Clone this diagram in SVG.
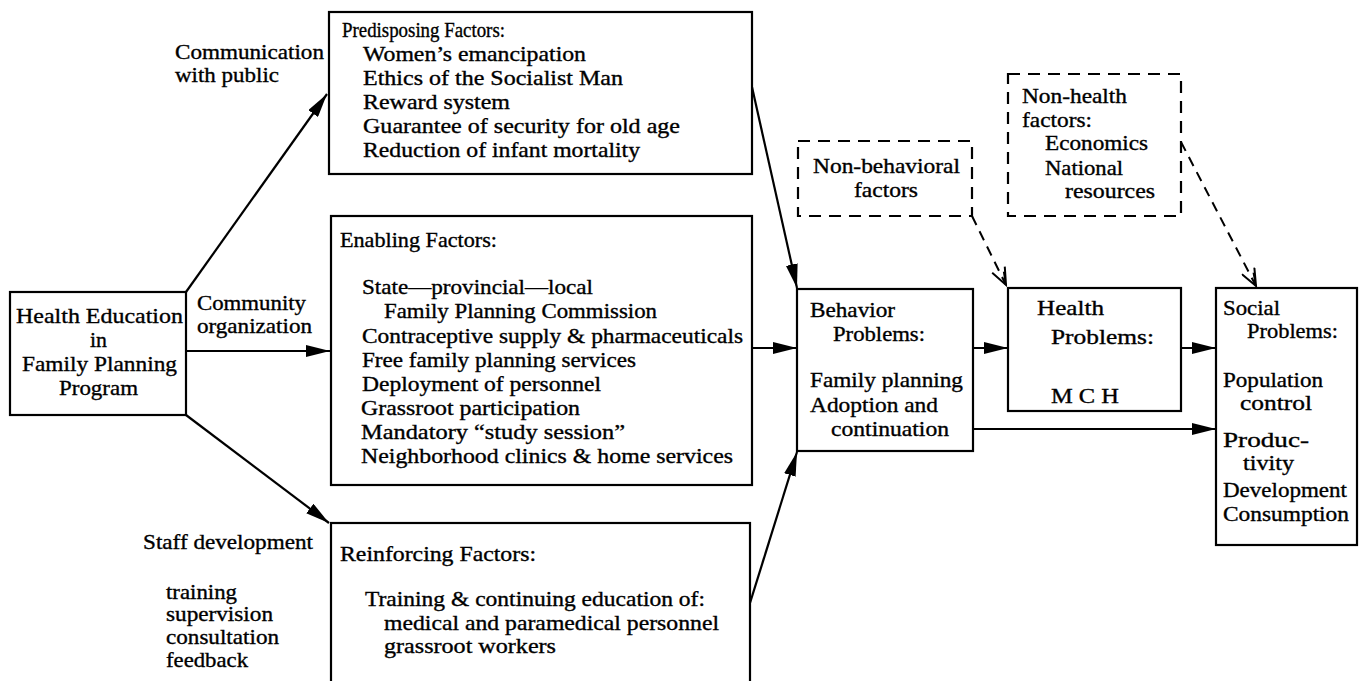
<svg xmlns="http://www.w3.org/2000/svg" width="1359" height="681" viewBox="0 0 1359 681">
<style>
text{font-family:"Liberation Serif","Times New Roman",serif;font-size:21px;fill:#000;stroke:#000;stroke-width:0.35}
.big{font-size:22px}
.box{fill:#fff;stroke:#000;stroke-width:2.2}
.dbox{fill:none;stroke:#000;stroke-width:2.2;stroke-dasharray:12 8}
.c{fill:none;stroke:#000;stroke-width:2.2}
.d{fill:none;stroke:#000;stroke-width:2;stroke-dasharray:10 7}
</style>
<defs>
<marker id="ah" markerUnits="userSpaceOnUse" markerWidth="24" markerHeight="12" refX="24" refY="6" orient="auto">
<path d="M0,0 L24,6 L0,12 z" fill="#000"/>
</marker>
<marker id="oh" markerUnits="userSpaceOnUse" markerWidth="20" markerHeight="16" refX="18" refY="8" orient="auto">
<path d="M1,1 L18,8 L1,15 M5,4 L18,8" fill="none" stroke="#000" stroke-width="2"/>
</marker>
</defs>

<g id="connectors">
<line class="c" x1="186" y1="292" x2="327" y2="94" marker-end="url(#ah)"/>
<line class="c" x1="186" y1="351" x2="330" y2="351" marker-end="url(#ah)"/>
<line class="c" x1="186" y1="415" x2="329" y2="523" marker-end="url(#ah)"/>
<line class="c" x1="752" y1="87" x2="797" y2="288" marker-end="url(#ah)"/>
<line class="c" x1="752" y1="348" x2="797" y2="348" marker-end="url(#ah)"/>
<line class="c" x1="750" y1="603" x2="797" y2="452" marker-end="url(#ah)"/>
<line class="c" x1="973" y1="348" x2="1008" y2="348" marker-end="url(#ah)"/>
<line class="c" x1="1181" y1="348" x2="1216" y2="348" marker-end="url(#ah)"/>
<line class="c" x1="973" y1="429" x2="1216" y2="429" marker-end="url(#ah)"/>
<line class="d" x1="972" y1="216" x2="1006" y2="285" marker-end="url(#oh)"/>
<line class="d" x1="1181" y1="142" x2="1256" y2="286" marker-end="url(#oh)"/>
</g>

<g id="labels">
<text x="175" y="59" textLength="149" lengthAdjust="spacingAndGlyphs">Communication</text>
<text x="175" y="82" textLength="104" lengthAdjust="spacingAndGlyphs">with public</text>
<text x="197" y="310" textLength="109" lengthAdjust="spacingAndGlyphs">Community</text>
<text x="197" y="333" textLength="115" lengthAdjust="spacingAndGlyphs">organization</text>
<text x="143" y="549" textLength="170" lengthAdjust="spacingAndGlyphs">Staff development</text>
<text x="166" y="599" textLength="71" lengthAdjust="spacingAndGlyphs">training</text>
<text x="166" y="621" textLength="107" lengthAdjust="spacingAndGlyphs">supervision</text>
<text x="166" y="644" textLength="113" lengthAdjust="spacingAndGlyphs">consultation</text>
<text x="166" y="667" textLength="82" lengthAdjust="spacingAndGlyphs">feedback</text>
</g>

<g id="program">
<rect class="box" x="10" y="292" width="176" height="123"/>
<text class="big" x="16" y="323" textLength="167" lengthAdjust="spacingAndGlyphs">Health Education</text>
<text class="big" x="90" y="347" textLength="17" lengthAdjust="spacingAndGlyphs">in</text>
<text class="big" x="22" y="371" textLength="155" lengthAdjust="spacingAndGlyphs">Family Planning</text>
<text class="big" x="59" y="395" textLength="79" lengthAdjust="spacingAndGlyphs">Program</text>
</g>

<g id="predisposing">
<rect class="box" x="329" y="12" width="423" height="162"/>
<text x="342" y="37" textLength="163" lengthAdjust="spacingAndGlyphs">Predisposing Factors:</text>
<text x="363" y="61" textLength="223" lengthAdjust="spacingAndGlyphs">Women’s emancipation</text>
<text x="363" y="85" textLength="260" lengthAdjust="spacingAndGlyphs">Ethics of the Socialist Man</text>
<text x="363" y="109" textLength="147" lengthAdjust="spacingAndGlyphs">Reward system</text>
<text x="363" y="133" textLength="317" lengthAdjust="spacingAndGlyphs">Guarantee of security for old age</text>
<text x="363" y="157" textLength="277" lengthAdjust="spacingAndGlyphs">Reduction of infant mortality</text>
</g>

<g id="enabling">
<rect class="box" x="331" y="216" width="421" height="269"/>
<text x="340" y="247" textLength="157" lengthAdjust="spacingAndGlyphs">Enabling Factors:</text>
<text x="362" y="294" textLength="231" lengthAdjust="spacingAndGlyphs">State—provincial—local</text>
<text x="384" y="318" textLength="273" lengthAdjust="spacingAndGlyphs">Family Planning Commission</text>
<text x="362" y="343" textLength="381" lengthAdjust="spacingAndGlyphs">Contraceptive supply &amp; pharmaceuticals</text>
<text x="362" y="367" textLength="274" lengthAdjust="spacingAndGlyphs">Free family planning services</text>
<text x="362" y="391" textLength="239" lengthAdjust="spacingAndGlyphs">Deployment of personnel</text>
<text x="361" y="415" textLength="219" lengthAdjust="spacingAndGlyphs">Grassroot participation</text>
<text x="361" y="439" textLength="264" lengthAdjust="spacingAndGlyphs">Mandatory “study session”</text>
<text x="361" y="463" textLength="372" lengthAdjust="spacingAndGlyphs">Neighborhood clinics &amp; home services</text>
</g>

<g id="reinforcing">
<rect class="box" x="331" y="523" width="419" height="175"/>
<text x="340" y="561" textLength="196" lengthAdjust="spacingAndGlyphs">Reinforcing Factors:</text>
<text x="365" y="606" textLength="340" lengthAdjust="spacingAndGlyphs">Training &amp; continuing education of:</text>
<text x="384" y="630" textLength="335" lengthAdjust="spacingAndGlyphs">medical and paramedical personnel</text>
<text x="384" y="653" textLength="172" lengthAdjust="spacingAndGlyphs">grassroot workers</text>
</g>

<g id="behavior">
<rect class="box" x="797" y="289" width="176" height="162"/>
<text x="810" y="317" textLength="85" lengthAdjust="spacingAndGlyphs">Behavior</text>
<text x="833" y="341" textLength="92" lengthAdjust="spacingAndGlyphs">Problems:</text>
<text x="810" y="387" textLength="153" lengthAdjust="spacingAndGlyphs">Family planning</text>
<text x="810" y="412" textLength="128" lengthAdjust="spacingAndGlyphs">Adoption and</text>
<text x="831" y="436" textLength="118" lengthAdjust="spacingAndGlyphs">continuation</text>
</g>

<g id="health">
<rect class="box" x="1008" y="288" width="173" height="123"/>
<text x="1037" y="315" textLength="67" lengthAdjust="spacingAndGlyphs">Health</text>
<text x="1051" y="344" textLength="103" lengthAdjust="spacingAndGlyphs">Problems:</text>
<text x="1051" y="403" textLength="68" lengthAdjust="spacingAndGlyphs">M C H</text>
</g>

<g id="social">
<rect class="box" x="1216" y="288" width="141" height="257"/>
<text x="1223" y="315" textLength="57" lengthAdjust="spacingAndGlyphs">Social</text>
<text x="1247" y="338" textLength="91" lengthAdjust="spacingAndGlyphs">Problems:</text>
<text x="1223" y="387" textLength="100" lengthAdjust="spacingAndGlyphs">Population</text>
<text x="1240" y="410" textLength="72" lengthAdjust="spacingAndGlyphs">control</text>
<text x="1223" y="447" textLength="86" lengthAdjust="spacingAndGlyphs">Produc-</text>
<text x="1243" y="470" textLength="51" lengthAdjust="spacingAndGlyphs">tivity</text>
<text x="1223" y="497" textLength="124" lengthAdjust="spacingAndGlyphs">Development</text>
<text x="1223" y="521" textLength="126" lengthAdjust="spacingAndGlyphs">Consumption</text>
</g>

<g id="nonbehavioral">
<rect class="dbox" x="798" y="141" width="174" height="75"/>
<text x="813" y="173" textLength="147" lengthAdjust="spacingAndGlyphs">Non-behavioral</text>
<text x="854" y="197" textLength="64" lengthAdjust="spacingAndGlyphs">factors</text>
</g>

<g id="nonhealth">
<rect class="dbox" x="1008" y="74" width="173" height="142"/>
<text x="1022" y="103" textLength="105" lengthAdjust="spacingAndGlyphs">Non-health</text>
<text x="1022" y="127" textLength="70" lengthAdjust="spacingAndGlyphs">factors:</text>
<text x="1045" y="150" textLength="103" lengthAdjust="spacingAndGlyphs">Economics</text>
<text x="1045" y="175" textLength="78" lengthAdjust="spacingAndGlyphs">National</text>
<text x="1065" y="198" textLength="90" lengthAdjust="spacingAndGlyphs">resources</text>
</g>
</svg>
